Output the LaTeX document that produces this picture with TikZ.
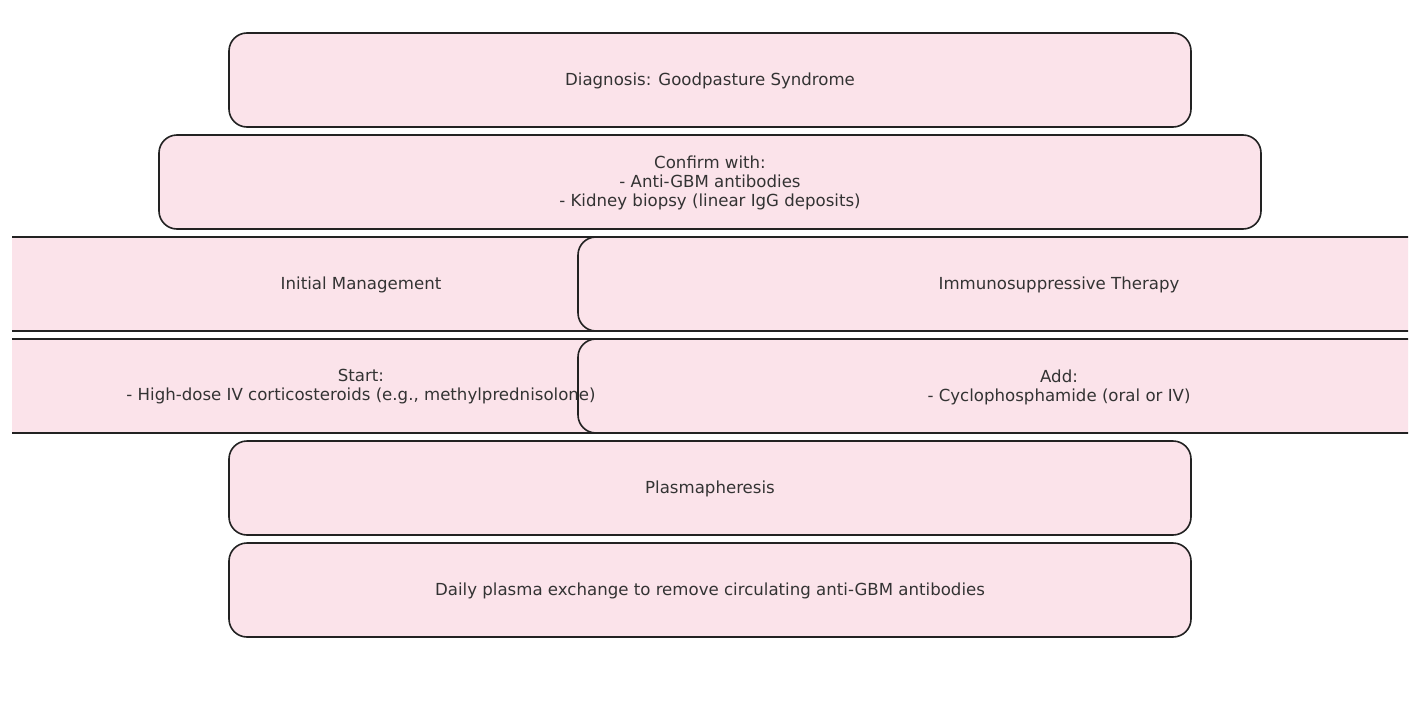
\documentclass[tikz,border=0pt]{standalone}
\usepackage{fontspec}
\setmainfont{DejaVu Sans}
\definecolor{boxfill}{HTML}{FBE3EA}
\definecolor{boxline}{HTML}{222222}
\definecolor{txt}{HTML}{333333}
\tikzset{
  pbox/.style={draw=boxline, fill=boxfill, line width=1.6pt, rounded corners=18pt},
  lbl/.style={text=txt, align=center, font=\fontsize{16.6}{19}\selectfont, inner sep=0pt}
}
\begin{document}
\begin{tikzpicture}[x=1pt,y=-1pt]
\useasboundingbox (0,0) rectangle (1419,704);
\begin{scope}
\clip (12,0) rectangle (1408,704);
\draw[pbox] (229,33) rectangle (1191,127);
\draw[pbox] (159,135) rectangle (1261,229);
\draw[pbox] (-120,237) rectangle (842,331);
\draw[pbox] (578,237) rectangle (1540,331);
\draw[pbox] (-120,339) rectangle (842,433);
\draw[pbox] (578,339) rectangle (1540,433);
\draw[pbox] (229,441) rectangle (1191,535);
\draw[pbox] (229,543) rectangle (1191,637);
\node[lbl] (diag) at (710,81) {Diagnosis: Goodpasture Syndrome};
\node[lbl] (conf) at (710,183) {Confirm with:\\- Anti-GBM antibodies\\- Kidney biopsy (linear IgG deposits)};
\node[lbl] (init) at (361,285) {Initial Management};
\node[lbl] (immu) at (1059,285) {Immunosuppressive Therapy};
\node[lbl] (start) at (361,387) {Start:\\- High-dose IV corticosteroids (e.g., methylprednisolone)};
\node[lbl] (add) at (1059,387) {Add:\\- Cyclophosphamide (oral or IV)};
\node[lbl] (plas) at (710,489) {Plasmapheresis};
\node[lbl] (daily) at (710,591) {Daily plasma exchange to remove circulating anti-GBM antibodies};
\end{scope}
\end{tikzpicture}
\end{document}
